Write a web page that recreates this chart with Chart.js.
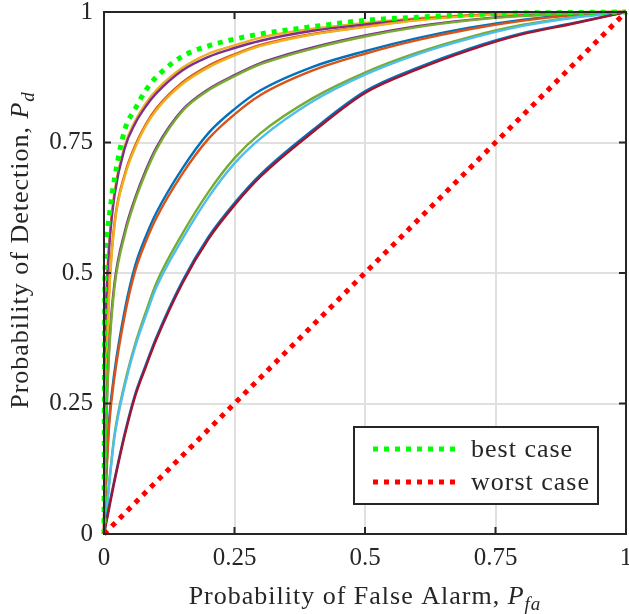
<!DOCTYPE html>
<html>
<head>
<meta charset="utf-8">
<script src="https://cdn.jsdelivr.net/npm/chart.js@4.4.0/dist/chart.umd.min.js"></script>
<style>
  html, body { margin: 0; padding: 0; background: #fff; }
</style>
</head>
<body>
<canvas id="roc" width="629" height="614"></canvas>
<script>
// False alarm grid shared by the ROC curves
const pfa = [0, 0.002, 0.005, 0.01, 0.02, 0.04, 0.06, 0.08, 0.1, 0.15, 0.2, 0.25, 0.3, 0.4, 0.5, 0.6, 0.7, 0.8, 0.9, 1];

// Detection probability for each curve (MATLAB colour order)
const pd1  = [0, 0.06, 0.13, 0.22, 0.31, 0.43, 0.515, 0.57, 0.615, 0.70, 0.768, 0.814, 0.85, 0.895, 0.925, 0.95, 0.97, 0.985, 0.995, 1];
const pd2  = [0, 0.05, 0.12, 0.21, 0.30, 0.42, 0.505, 0.56, 0.605, 0.69, 0.757, 0.804, 0.841, 0.888, 0.92, 0.946, 0.967, 0.983, 0.994, 1];
const pd3  = [0, 0.36, 0.47, 0.56, 0.655, 0.745, 0.792, 0.825, 0.85, 0.893, 0.92, 0.936, 0.951, 0.968, 0.979, 0.988, 0.994, 0.998, 0.9995, 1];
const pd4  = [0, 0.34, 0.46, 0.55, 0.648, 0.74, 0.787, 0.819, 0.844, 0.888, 0.914, 0.931, 0.945, 0.964, 0.976, 0.986, 0.993, 0.997, 0.999, 1];
const pd5  = [0, 0.02, 0.05, 0.10, 0.19, 0.29, 0.365, 0.425, 0.48, 0.575, 0.655, 0.72, 0.768, 0.835, 0.884, 0.922, 0.952, 0.975, 0.99, 1];
const pd6  = [0, 0.02, 0.045, 0.095, 0.185, 0.285, 0.36, 0.418, 0.472, 0.565, 0.645, 0.71, 0.758, 0.829, 0.88, 0.919, 0.949, 0.973, 0.989, 1];
const pd7  = [0, 0.01, 0.025, 0.05, 0.10, 0.19, 0.265, 0.32, 0.372, 0.48, 0.565, 0.63, 0.685, 0.77, 0.845, 0.89, 0.927, 0.957, 0.978, 1];
const pd8  = [0, 0.012, 0.028, 0.055, 0.104, 0.194, 0.269, 0.324, 0.376, 0.484, 0.569, 0.634, 0.689, 0.774, 0.848, 0.893, 0.93, 0.959, 0.979, 1];
const pd9  = [0, 0.20, 0.33, 0.47, 0.595, 0.69, 0.745, 0.785, 0.815, 0.865, 0.897, 0.919, 0.937, 0.958, 0.972, 0.985, 0.993, 0.998, 0.9995, 1];
const pd10 = [0, 0.19, 0.32, 0.46, 0.59, 0.686, 0.741, 0.782, 0.812, 0.862, 0.894, 0.917, 0.935, 0.957, 0.971, 0.984, 0.992, 0.997, 0.999, 1];
const pd11 = [0, 0.11, 0.24, 0.36, 0.48, 0.58, 0.645, 0.697, 0.74, 0.812, 0.852, 0.879, 0.902, 0.932, 0.955, 0.973, 0.985, 0.993, 0.997, 1];
const pd12 = [0, 0.10, 0.23, 0.35, 0.472, 0.574, 0.64, 0.692, 0.736, 0.81, 0.85, 0.877, 0.90, 0.93, 0.953, 0.971, 0.984, 0.992, 0.997, 1];
const bestCase = [0, 0.50, 0.57, 0.61, 0.68, 0.775, 0.815, 0.85, 0.875, 0.915, 0.935, 0.948, 0.958, 0.972, 0.984, 0.99, 0.995, 0.998, 0.999, 1];
const worstX = [0, 1];
const worstY = [0, 1];

const xTickLabels = ['0', '0.25', '0.5', '0.75', '1'];
const yTickLabels = ['0', '0.25', '0.5', '0.75', '1'];
const legendLabels = ['best case', 'worst case'];

const matlab = ['#0072BD', '#D95319', '#EDB120', '#7E2F8E', '#77AC30', '#4DBEEE', '#A2142F'];
const curves = [pd1, pd2, pd3, pd4, pd5, pd6, pd7, pd8, pd9, pd10, pd11, pd12];

const toPts = (xs, ys) => xs.map((x, i) => ({ x: x, y: ys[i] }));

const datasets = curves.map((ys, i) => ({
  data: toPts(pfa, ys),
  borderColor: matlab[i % 7],
  borderWidth: 2.4,
  cubicInterpolationMode: 'monotone',
  order: 40 - i
}));
// dark red sits over its blue twin in the original
datasets[6].order = 30;

datasets.push({
  label: legendLabels[0],
  data: toPts(pfa, bestCase),
  borderColor: '#00FF00',
  borderWidth: 5,
  borderDash: [5, 6],
  borderCapStyle: 'butt',
  cubicInterpolationMode: 'monotone',
  order: 2
});
datasets.push({
  label: legendLabels[1],
  data: toPts(worstX, worstY),
  borderColor: '#FF0000',
  borderWidth: 5,
  borderDash: [5, 6],
  borderCapStyle: 'butt',
  order: 1
});

const FONT = '"Liberation Serif", "Times New Roman", serif';
const INK = '#262626';

// Draw "main, P_sub" with an italic symbol and subscript
function drawTitle(ctx, cx, cy, rot, main, sym, sub) {
  ctx.save();
  ctx.translate(cx, cy);
  ctx.rotate(rot);
  ctx.letterSpacing = '1px';
  ctx.fillStyle = INK;
  ctx.textBaseline = 'alphabetic';
  ctx.font = '26px ' + FONT;
  const w1 = ctx.measureText(main).width;
  ctx.font = 'italic 26px ' + FONT;
  const w2 = ctx.measureText(sym).width;
  ctx.font = 'italic 19px ' + FONT;
  const w3 = ctx.measureText(sub).width;
  let x = -(w1 + w2 + w3) / 2;
  ctx.font = '26px ' + FONT;
  ctx.fillText(main, x, 0);
  x += w1;
  ctx.font = 'italic 26px ' + FONT;
  ctx.fillText(sym, x, 0);
  x += w2;
  ctx.font = 'italic 19px ' + FONT;
  ctx.fillText(sub, x, 6);
  ctx.restore();
}

const framePlugin = {
  id: 'frame',
  afterDatasetsDraw(chart) {
    const { ctx, chartArea: a, scales } = chart;
    ctx.save();
    ctx.strokeStyle = INK;
    ctx.lineWidth = 2;
    ctx.strokeRect(a.left, a.top, a.right - a.left, a.bottom - a.top);
    const tl = 7;
    ctx.beginPath();
    scales.x.ticks.forEach(t => {
      const px = scales.x.getPixelForValue(t.value);
      ctx.moveTo(px, a.bottom); ctx.lineTo(px, a.bottom - tl);
      ctx.moveTo(px, a.top); ctx.lineTo(px, a.top + tl);
    });
    scales.y.ticks.forEach(t => {
      const py = scales.y.getPixelForValue(t.value);
      ctx.moveTo(a.left, py); ctx.lineTo(a.left + tl, py);
      ctx.moveTo(a.right, py); ctx.lineTo(a.right - tl, py);
    });
    ctx.stroke();
    ctx.restore();
  },
  afterDraw(chart) {
    const { ctx, chartArea: a } = chart;
    drawTitle(ctx, (a.left + a.right) / 2, 604, 0, 'Probability of False Alarm, ', 'P', 'fa');
    drawTitle(ctx, 28, 250, -Math.PI / 2, 'Probability of Detection, ', 'P', 'd');

    // legend box
    ctx.save();
    const bx = 354, by = 427, bw = 244, bh = 77;
    ctx.fillStyle = '#fff';
    ctx.fillRect(bx, by, bw, bh);
    ctx.strokeStyle = INK;
    ctx.lineWidth = 2;
    ctx.strokeRect(bx, by, bw, bh);
    const rows = [
      { y: 449, color: '#00FF00', text: legendLabels[0] },
      { y: 482, color: '#FF0000', text: legendLabels[1] }
    ];
    rows.forEach(r => {
      ctx.strokeStyle = r.color;
      ctx.lineWidth = 5;
      ctx.setLineDash([5, 6]);
      ctx.beginPath();
      ctx.moveTo(373, r.y);
      ctx.lineTo(461, r.y);
      ctx.stroke();
      ctx.setLineDash([]);
      ctx.letterSpacing = '1px';
      ctx.fillStyle = INK;
      ctx.font = '26px ' + FONT;
      ctx.textBaseline = 'alphabetic';
      ctx.fillText(r.text, 471, r.y + 8);
    });
    ctx.restore();
  }
};

new Chart(document.getElementById('roc'), {
  type: 'scatter',
  data: { datasets: datasets },
  options: {
    responsive: false,
    animation: false,
    showLine: true,
    elements: { point: { radius: 0 }, line: { tension: 0 } },
    datasets: { scatter: { clip: 6 } },
    layout: { padding: { left: 0, top: 12, right: 3, bottom: 0 } },
    plugins: { legend: { display: false }, tooltip: { enabled: false } },
    scales: {
      x: {
        type: 'linear', min: 0, max: 1,
        afterFit: s => { s.height = 80; s.paddingLeft = 0; s.paddingRight = 0; },
        ticks: {
          stepSize: 0.25, padding: 9, color: INK,
          font: { family: FONT, size: 25 },
          callback: (v, i) => xTickLabels[i]
        },
        grid: { color: '#e0e0e0', lineWidth: 2, drawTicks: false },
        border: { display: false }
      },
      y: {
        type: 'linear', min: 0, max: 1,
        afterFit: s => { s.width = 104; s.paddingTop = 0; s.paddingBottom = 0; },
        ticks: {
          stepSize: 0.25, padding: 11, color: INK,
          font: { family: FONT, size: 25 },
          callback: (v, i) => yTickLabels[i]
        },
        grid: { color: '#e0e0e0', lineWidth: 2, drawTicks: false },
        border: { display: false }
      }
    }
  },
  plugins: [framePlugin]
});
</script>
</body>
</html>
